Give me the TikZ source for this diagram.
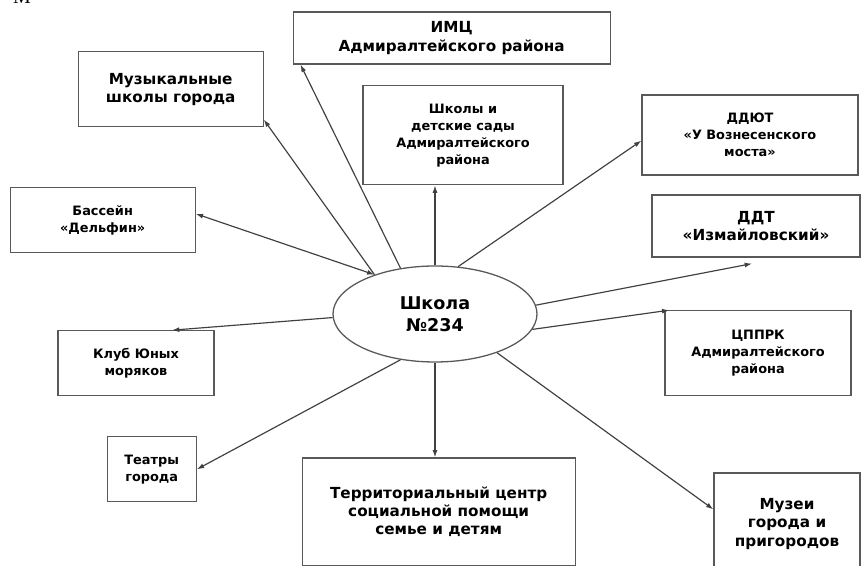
\documentclass[tikz,border=0pt]{standalone}
\usepackage{fontspec}
\setmainfont{DejaVu Sans}
\newfontfamily\serifletter{Liberation Serif}
\usepackage{tikz}
\usetikzlibrary{calc,positioning,shapes,arrows.meta}
\newcommand{\bigfont}{\fontsize{13}{15.5}\selectfont\bfseries}
\newcommand{\smallfont}{\fontsize{11}{14.5}\selectfont\bfseries}
\tikzstyle{block} = [rectangle, draw=black!65, line width=1.1pt, align=center, inner sep=0pt, font=\bigfont]
\tikzstyle{smallblock} = [block, font=\smallfont]
\tikzstyle{link} = [draw=black!75, line width=1pt, -{Latex[length=2.2mm,width=1.5mm]}]

\begin{document}
\begin{tikzpicture}
      \useasboundingbox (0,0) rectangle (25.83,16.98);
      \node[anchor=base, font=\serifletter\fontsize{17}{17}\selectfont] (corner) at (0.66,16.86) {M};
      %
      \node[ellipse, draw=black!65, line width=1.1pt, minimum width=6.12cm, minimum height=2.88cm, align=center, font=\fontsize{15}{18.5}\selectfont\bfseries] (School) at (13.05,7.56) {Школа\\№234};
      %
      \node[block, minimum width=5.55cm, minimum height=2.25cm] (MusicSchools) at (5.12,14.30) {Музыкальные\\школы города};
      \node[block, minimum width=9.51cm, minimum height=1.56cm] (IMC) at (13.55,15.84) {ИМЦ\\Адмиралтейского района};
      \node[smallblock, minimum width=6.0cm, minimum height=2.97cm] (Schools) at (13.89,12.92) {Школы и\\детские сады\\Адмиралтейского\\района};
      \node[smallblock, minimum width=6.48cm, minimum height=2.4cm] (DDUT) at (22.5,12.93) {ДДЮТ\\«У Вознесенского\\моста»};
      \node[block, minimum width=6.24cm, minimum height=1.86cm] (DDT) at (22.68,10.2) {ДДТ\\«Измайловский»};
      \node[smallblock, minimum width=5.55cm, minimum height=1.95cm] (Pool) at (3.08,10.37) {Бассейн\\«Дельфин»};
      \node[smallblock, minimum width=4.68cm, minimum height=1.95cm] (Club) at (4.08,6.08) {Клуб Юных\\моряков};
      \node[smallblock, minimum width=2.67cm, minimum height=1.95cm] (Theatres) at (4.55,2.9) {Театры\\города};
      \node[block, minimum width=8.19cm, minimum height=3.24cm] (Centre) at (13.16,1.62) {Территориальный центр\\социальной помощи\\семье и детям};
      \node[smallblock, minimum width=5.58cm, minimum height=2.55cm] (CPPRK) at (22.74,6.38) {ЦППРК\\Адмиралтейского\\района};
      \node[block, minimum width=4.38cm, minimum height=3.06cm] (Museums) at (23.61,1.26) {Музеи\\города и\\пригородов};
      %
      \draw[link] (School.127) -- (IMC.190);
      \draw[link] (School.147) -- (MusicSchools.-18);
      \draw[link, {Latex[length=2.2mm,width=1.5mm]}-{Latex[length=2.2mm,width=1.5mm]}] (School.147) -- (Pool.4);
      \draw[link] (School.north) -- (School.north |- Schools.south);
      \draw[link] (School.64) -- (DDUT.183);
      \draw[link] (School.5) -- ($(DDT.south)+(-0.12,-0.18)$);
      \draw[link] (School.-9) -- ($(CPPRK.north west)+(0.15,0)$);
      \draw[link] (School.-32) -- ($(Museums.north west)+(0,-1.11)$);
      \draw[link] (School.south) -- (School.south |- Centre.north);
      \draw[link] (School.-127) -- (Theatres.east);
      \draw[link] (School.182) -- ($(Club.north)+(1.08,0)$);
\end{tikzpicture}
\end{document}
